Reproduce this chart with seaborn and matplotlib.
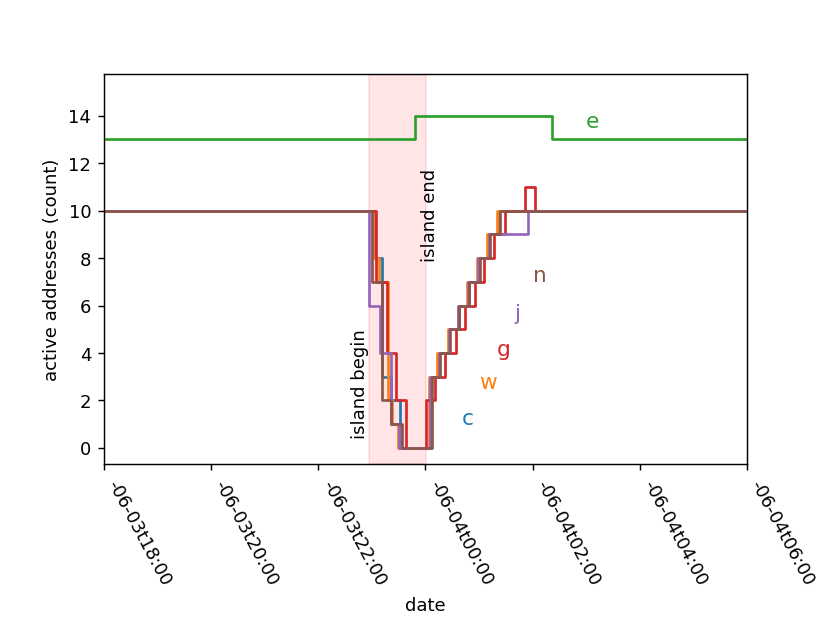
"""
island outage plot: active addresses per node, step lines
"""
import numpy as np
import pandas as pd
import matplotlib
matplotlib.use('Agg')
import matplotlib.pyplot as plt
import matplotlib.dates as mdates
import seaborn as sns

DAY1 = '2021-06-03 '
DAY2 = '2021-06-04 '

# step change times (value holds until next time)
c_times = [DAY1 + '18:00', DAY1 + '23:04', DAY1 + '23:11', DAY1 + '23:22', DAY1 + '23:32',
           DAY2 + '00:06', DAY2 + '00:15', DAY2 + '00:26', DAY2 + '00:38', DAY2 + '00:49',
           DAY2 + '01:00', DAY2 + '01:11', DAY2 + '01:22', DAY2 + '06:00']
c_vals = [10, 8, 3, 2, 0, 3, 4, 5, 6, 7, 8, 9, 10, 10]

w_times = [DAY1 + '18:00', DAY1 + '23:01', DAY1 + '23:08', DAY1 + '23:18', DAY1 + '23:23',
           DAY1 + '23:29', DAY2 + '00:04', DAY2 + '00:13', DAY2 + '00:25', DAY2 + '00:36',
           DAY2 + '00:47', DAY2 + '00:58', DAY2 + '01:09', DAY2 + '01:20', DAY2 + '06:00']
w_vals = [10, 8, 7, 2, 1, 0, 3, 4, 5, 6, 7, 8, 9, 10, 10]

e_times = [DAY1 + '18:00', DAY1 + '23:48', DAY2 + '02:22', DAY2 + '06:00']
e_vals = [13, 14, 13, 13]

g_times = [DAY1 + '18:00', DAY1 + '23:05', DAY1 + '23:17', DAY1 + '23:27', DAY1 + '23:38',
           DAY2 + '00:01', DAY2 + '00:11', DAY2 + '00:22', DAY2 + '00:34', DAY2 + '00:44',
           DAY2 + '00:55', DAY2 + '01:06', DAY2 + '01:17', DAY2 + '01:29', DAY2 + '01:51',
           DAY2 + '02:03', DAY2 + '06:00']
g_vals = [10, 7, 4, 2, 0, 2, 3, 4, 5, 6, 7, 8, 9, 10, 11, 10, 10]

j_times = [DAY1 + '18:00', DAY1 + '22:57', DAY1 + '23:09', DAY1 + '23:21', DAY1 + '23:30',
           DAY2 + '00:05', DAY2 + '00:15', DAY2 + '00:26', DAY2 + '00:37', DAY2 + '00:48',
           DAY2 + '00:59', DAY2 + '01:11', DAY2 + '01:55', DAY2 + '06:00']
j_vals = [10, 6, 4, 1, 0, 3, 4, 5, 6, 7, 8, 9, 10, 10]

n_times = [DAY1 + '18:00', DAY1 + '23:00', DAY1 + '23:11', DAY1 + '23:22', DAY1 + '23:34',
           DAY2 + '00:07', DAY2 + '00:16', DAY2 + '00:27', DAY2 + '00:38', DAY2 + '00:49',
           DAY2 + '01:01', DAY2 + '01:12', DAY2 + '01:23', DAY2 + '06:00']
n_vals = [10, 7, 2, 1, 0, 3, 4, 5, 6, 7, 8, 9, 10, 10]

island_begin = DAY1 + '22:57'
island_end = DAY2 + '00:01'

# label placement (time, value) for each node letter
label_names = ['c', 'w', 'e', 'g', 'j', 'n']
label_times = [DAY2 + '00:47', DAY2 + '01:10', DAY2 + '03:07', DAY2 + '01:28', DAY2 + '01:43', DAY2 + '02:08']
label_vals = [1.0, 2.5, 13.5, 3.9, 5.4, 7.0]

colors = ['tab:blue', 'tab:orange', 'tab:green', 'tab:red', 'tab:purple', 'tab:brown']


def build_frame():
    series = {'c': (c_times, c_vals), 'w': (w_times, w_vals), 'e': (e_times, e_vals),
              'g': (g_times, g_vals), 'j': (j_times, j_vals), 'n': (n_times, n_vals)}
    frames = []
    for name, (t, v) in series.items():
        frames.append(pd.DataFrame({'date': pd.to_datetime(t), 'count': v, 'addr': name}))
    return pd.concat(frames, ignore_index=True)


df = build_frame()

fig, ax = plt.subplots(figsize=(6.4, 4.8), dpi=129.7)
fig.subplots_adjust(bottom=0.253)

ax.axvspan(pd.Timestamp(island_begin), pd.Timestamp(island_end), color='red', alpha=0.1)

sns.lineplot(data=df, x='date', y='count', hue='addr', hue_order=label_names,
             palette=colors, drawstyle='steps-post', estimator=None, legend=False, ax=ax)

ax.text(pd.Timestamp(island_begin), 0.4, 'island begin', rotation=90,
        ha='right', va='bottom')
ax.text(pd.Timestamp(DAY2 + '00:05'), 11.8, 'island end', rotation=90,
        ha='center', va='top')

for name, t, v, col in zip(label_names, label_times, label_vals, colors):
    ax.text(pd.Timestamp(t), v, name, color=col, fontsize=12, ha='center', va='baseline')

ax.set_xlim(pd.Timestamp(DAY1 + '18:00'), pd.Timestamp(DAY2 + '06:00'))
ax.set_ylim(-0.7, 15.75)
ax.set_yticks([0, 2, 4, 6, 8, 10, 12, 14])
ax.xaxis.set_major_locator(mdates.HourLocator(interval=2))
ax.xaxis.set_major_formatter(mdates.DateFormatter('-%m-%dt%H:%M'))
plt.setp(ax.get_xticklabels(), rotation=-62, ha='left', va='top')
ax.set_xlabel('date')
ax.set_ylabel('active addresses (count)')

fig.savefig('out.png', dpi=129.7)
